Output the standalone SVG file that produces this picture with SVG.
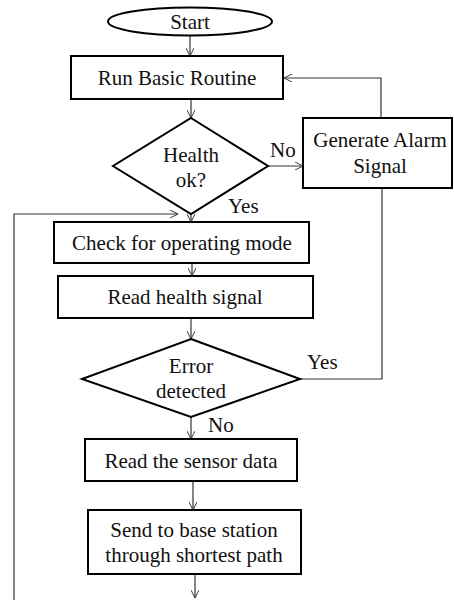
<svg xmlns="http://www.w3.org/2000/svg" width="454" height="600" viewBox="0 0 454 600">
<defs>
<marker id="ah" viewBox="0 0 10 10" refX="10" refY="5" markerWidth="8" markerHeight="8" markerUnits="userSpaceOnUse" orient="auto">
<path d="M0,0 L10,5 L0,10" fill="none" stroke="#333" stroke-width="1.2"/>
</marker>
<style>
.sh{fill:#fff;stroke:#000;stroke-width:2}
.t{font-family:"Liberation Serif","Times New Roman",serif;font-size:21px;fill:#111;text-anchor:middle}
.l{font-family:"Liberation Serif","Times New Roman",serif;font-size:21px;fill:#111}
.c{fill:none;stroke:#333;stroke-width:1.2}
.ca{fill:none;stroke:#333;stroke-width:1.2;marker-end:url(#ah)}
</style>
</defs>
<rect width="454" height="600" fill="#fff"/>
<g id="connectors">
<line class="ca" x1="190" y1="36" x2="190" y2="56"/>
<line class="ca" x1="191" y1="99" x2="191" y2="118"/>
<line class="ca" x1="268" y1="166" x2="303" y2="166"/>
<polyline class="ca" points="381,118 381,78 284,78"/>
<line class="ca" x1="191" y1="214" x2="191" y2="222"/>
<polyline class="ca" points="14,600 14,214 178,214"/>
<line class="ca" x1="192" y1="263" x2="192" y2="276"/>
<line class="ca" x1="191" y1="318" x2="191" y2="339"/>
<polyline class="c" points="300,379 382,379 382,188"/>
<line class="ca" x1="191" y1="417" x2="191" y2="439"/>
<line class="ca" x1="193" y1="481" x2="193" y2="510"/>
<line class="ca" x1="195" y1="574" x2="195" y2="598"/>
<text class="l" x="270" y="157">No</text>
<text class="l" x="228" y="213">Yes</text>
<text class="l" x="307" y="369">Yes</text>
<text class="l" x="208" y="432">No</text>
</g>
<g id="start">
<ellipse class="sh" cx="190" cy="21.5" rx="82" ry="14"/>
<text class="t" x="190" y="29">Start</text>
</g>
<g id="run-basic">
<rect class="sh" x="71" y="56" width="212" height="43"/>
<text class="t" x="177" y="85">Run Basic Routine</text>
</g>
<g id="health-ok">
<polygon class="sh" points="191,118 268,166 191,214 113,166"/>
<text class="t" x="191" y="162">Health</text>
<text class="t" x="191" y="187">ok?</text>
</g>
<g id="alarm">
<rect class="sh" x="303" y="118" width="149" height="70"/>
<text class="t" x="380" y="147">Generate Alarm</text>
<text class="t" x="380" y="173">Signal</text>
</g>
<g id="check-mode">
<rect class="sh" x="54" y="222" width="255" height="41"/>
<text class="t" x="182" y="250">Check for operating mode</text>
</g>
<g id="read-health">
<rect class="sh" x="58" y="276" width="255" height="42"/>
<text class="t" x="185" y="304">Read health signal</text>
</g>
<g id="error-detected">
<polygon class="sh" points="191,339 300,379 191,417 82,379"/>
<text class="t" x="191" y="373">Error</text>
<text class="t" x="191" y="398">detected</text>
</g>
<g id="read-sensor">
<rect class="sh" x="85" y="439" width="212" height="42"/>
<text class="t" x="191" y="468">Read the sensor data</text>
</g>
<g id="send-base">
<rect class="sh" x="88" y="510" width="213" height="64"/>
<text class="t" x="194" y="537">Send to base station</text>
<text class="t" x="194" y="562">through shortest path</text>
</g>
</svg>
